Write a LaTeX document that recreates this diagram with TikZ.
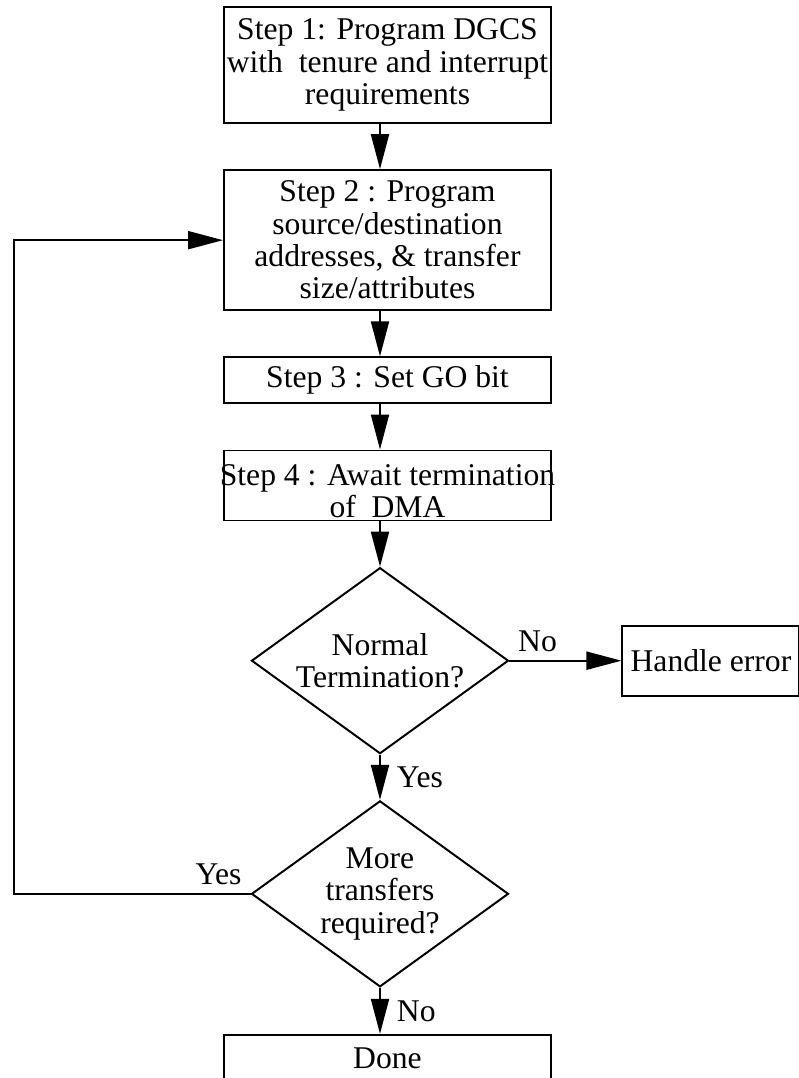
\documentclass[tikz,border=0pt]{standalone}
\usepackage{fontspec}
\setmainfont{Liberation Serif}
\usetikzlibrary{shapes.geometric, arrows.meta, positioning}

\begin{document}
\begin{tikzpicture}[
    node distance=1.13cm and 2.8cm,
    font=\fontsize{22.5}{23}\selectfont,
    % Styles
    stepbox/.style={rectangle, draw, line width=1.4pt, minimum width=8.175cm,
                 inner sep=2pt, align=center},
    decision/.style={diamond, draw, line width=1.4pt, aspect=1.4, minimum width=6.425cm,
                 minimum height=4.65cm, inner sep=0pt, align=center},
    arrow/.style={-{Triangle[length=0.875cm, width=0.45cm]}, line width=1.4pt},
    lbl/.style={inner sep=0.2cm},
  ]
  \useasboundingbox (0,0) rectangle (19.975,-26.95);

  % Steps (vertical)
  \node[stepbox, minimum height=2.9cm] (step1) at (9.6875,-1.625) {Step 1: Program DGCS\\with~ tenure and interrupt\\requirements};
  \node[stepbox, minimum height=3.5cm, below=of step1] (step2) {Step 2 : Program\\source/destination\\addresses, \& transfer\\size/attributes};
  \node[stepbox, minimum height=1.15cm, below=of step2] (step3) {Step 3 : Set GO bit};
  \node[stepbox, minimum height=1.75cm, below=of step3] (step4) {};
  \node[yshift=-0.15cm, inner sep=0pt, align=center] (step4txt) at (step4) {Step 4 : Await termination\\of~ DMA};

  % Decisions
  \node[decision, below=of step4, xshift=-0.1875cm] (normal) {Normal\\Termination?};
  \node[stepbox, minimum width=4.425cm, minimum height=1.75cm, right=of normal] (handle) {Handle error};
  \node[decision, below=of normal] (more) {More\\transfers\\required?};
  \node[stepbox, minimum height=1.15cm, below=1.15cm of more, xshift=0.1875cm] (done) {Done};

  % Arrows between steps
  \draw[arrow] (step1.south -| normal) -- (step2.north -| normal);
  \draw[arrow] (step2.south -| normal) -- (step3.north -| normal);
  \draw[arrow] (step3.south -| normal) -- (step4.north -| normal);
  \draw[arrow] (step4.south -| normal) -- (normal);

  % Decision branches
  \draw[arrow] (normal) -- node[lbl, above, pos=0.25] {No} (handle);
  \draw[arrow] (normal) -- node[lbl, right=0.2cm] {Yes} (more);
  \draw[arrow] (more) -- node[lbl, right=0.2cm] {No} (done.north -| more);

  % Loop back
  \coordinate (loop) at (0.35,0);
  \draw[arrow] (more.west) -- node[lbl, above left, pos=0] {Yes} (more.west -| loop) |- (step2.west);
\end{tikzpicture}
\end{document}
